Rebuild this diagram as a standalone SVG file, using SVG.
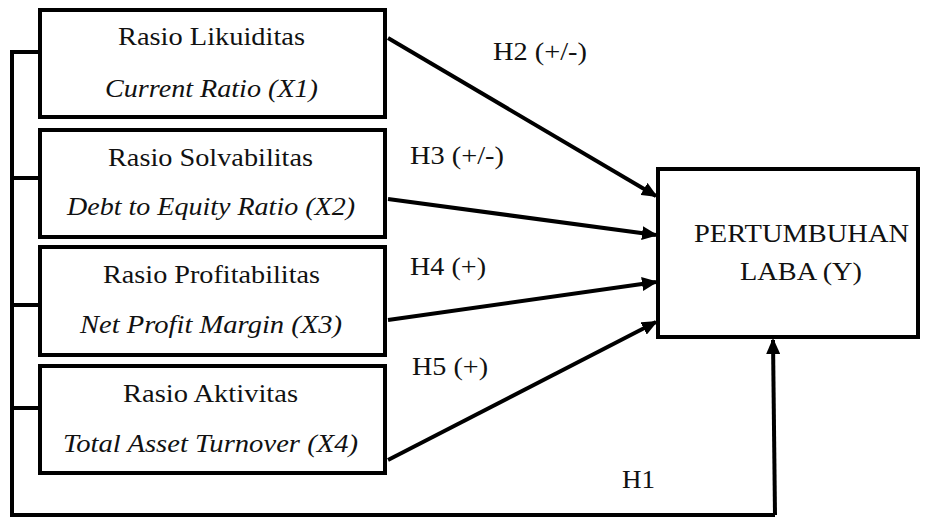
<svg xmlns="http://www.w3.org/2000/svg" width="934" height="518" viewBox="0 0 934 518">
<style>
.box{fill:#fff;stroke:#000;stroke-width:4}
.t{font-size:25px;fill:#111}
.i{font-style:italic}
.c{fill:none;stroke:#000;stroke-width:4}
</style>
<defs>
<marker id="ah" markerUnits="userSpaceOnUse" markerWidth="16" markerHeight="14" refX="14" refY="7" orient="auto">
<path d="M0,0 L16,7 L0,14 Z" fill="#000"/>
</marker>
</defs>
<rect width="934" height="518" fill="#fff"/>
<g font-family="Liberation Serif, Times New Roman, serif">
<g id="connectors">
<polyline class="c" points="39,52 12,52 12,515 775,515"/>
<line class="c" x1="12" y1="178" x2="39" y2="178"/>
<line class="c" x1="12" y1="305" x2="39" y2="305"/>
<line class="c" x1="12" y1="408" x2="39" y2="408"/>
<line class="c" x1="775" y1="515" x2="773" y2="340" marker-end="url(#ah)"/>
<line class="c" x1="388" y1="38" x2="656" y2="196" marker-end="url(#ah)"/>
<line class="c" x1="388" y1="199" x2="656" y2="235" marker-end="url(#ah)"/>
<line class="c" x1="388" y1="320" x2="656" y2="282" marker-end="url(#ah)"/>
<line class="c" x1="388" y1="460" x2="656" y2="322" marker-end="url(#ah)"/>
<text class="t" x="493" y="60" textLength="94" lengthAdjust="spacingAndGlyphs">H2 (+/-)</text>
<text class="t" x="410" y="164" textLength="94" lengthAdjust="spacingAndGlyphs">H3 (+/-)</text>
<text class="t" x="410" y="275" textLength="76" lengthAdjust="spacingAndGlyphs">H4 (+)</text>
<text class="t" x="412" y="375" textLength="76" lengthAdjust="spacingAndGlyphs">H5 (+)</text>
<text class="t" x="622" y="488" textLength="33" lengthAdjust="spacingAndGlyphs">H1</text>
</g>
<g id="x1">
<rect class="box" x="40" y="10" width="345" height="107"/>
<text class="t" x="118" y="45" textLength="187" lengthAdjust="spacingAndGlyphs">Rasio Likuiditas</text>
<text class="t i" x="105" y="97" textLength="213" lengthAdjust="spacingAndGlyphs">Current Ratio (X1)</text>
</g>
<g id="x2">
<rect class="box" x="40" y="130" width="345" height="107"/>
<text class="t" x="108" y="166" textLength="205" lengthAdjust="spacingAndGlyphs">Rasio Solvabilitas</text>
<text class="t i" x="67" y="215" textLength="288" lengthAdjust="spacingAndGlyphs">Debt to Equity Ratio (X2)</text>
</g>
<g id="x3">
<rect class="box" x="40" y="247" width="345" height="108"/>
<text class="t" x="103" y="283" textLength="217" lengthAdjust="spacingAndGlyphs">Rasio Profitabilitas</text>
<text class="t i" x="80" y="333" textLength="262" lengthAdjust="spacingAndGlyphs">Net Profit Margin (X3)</text>
</g>
<g id="x4">
<rect class="box" x="40" y="366" width="345" height="107"/>
<text class="t" x="123" y="402" textLength="175" lengthAdjust="spacingAndGlyphs">Rasio Aktivitas</text>
<text class="t i" x="63" y="452" textLength="295" lengthAdjust="spacingAndGlyphs">Total Asset Turnover (X4)</text>
</g>
<g id="y">
<rect class="box" x="658" y="169" width="260" height="168"/>
<text class="t" x="694" y="242" textLength="215" lengthAdjust="spacingAndGlyphs">PERTUMBUHAN</text>
<text class="t" x="740" y="280" textLength="122" lengthAdjust="spacingAndGlyphs">LABA (Y)</text>
</g>
</g>
</svg>
